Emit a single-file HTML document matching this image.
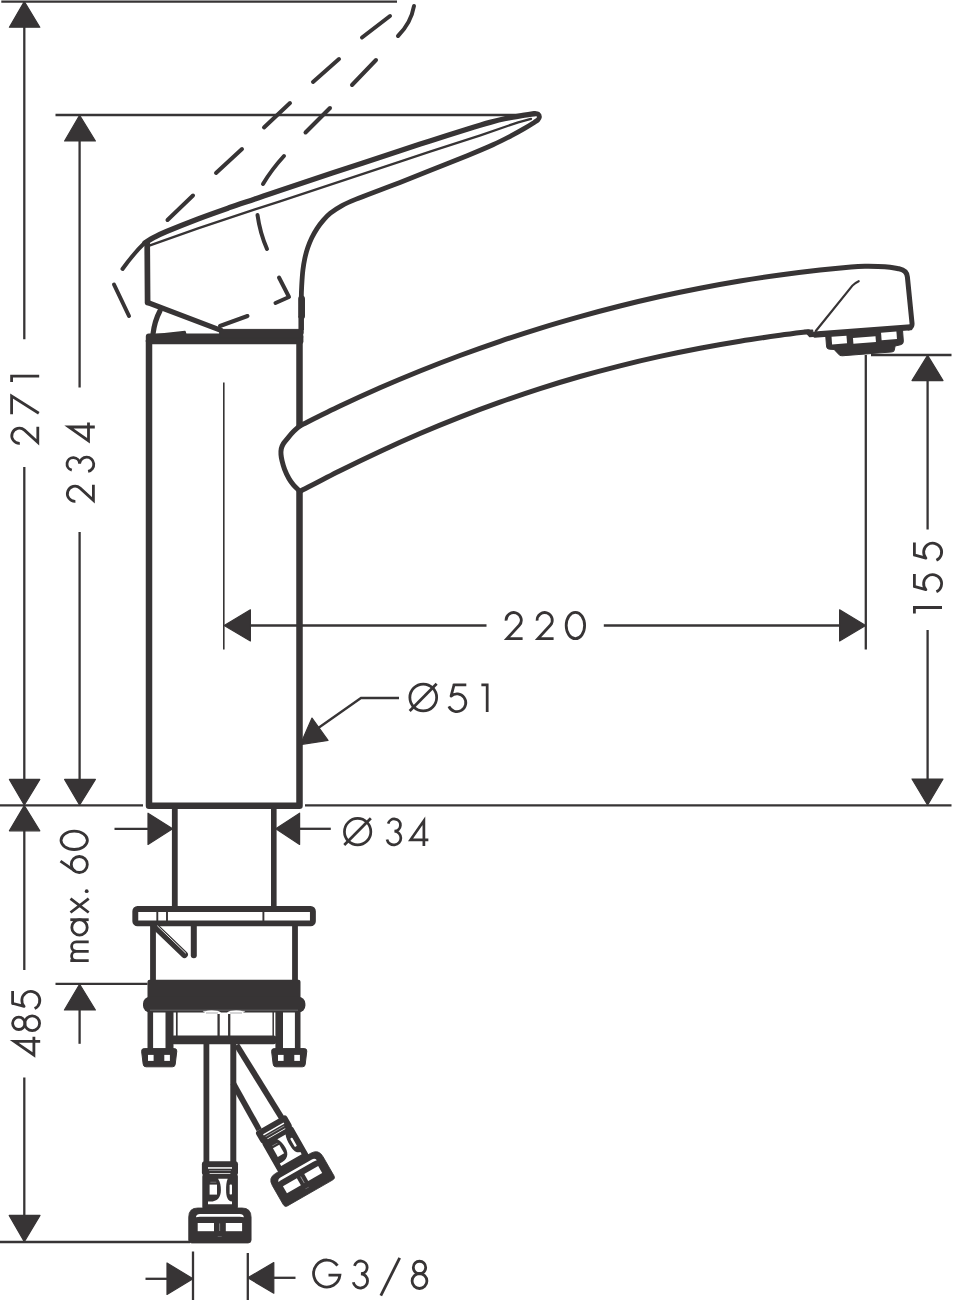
<!DOCTYPE html>
<html><head><meta charset="utf-8"><title>Dimension drawing</title>
<style>html,body{margin:0;padding:0;background:#fff;font-family:"Liberation Sans",sans-serif;}svg{display:block}</style>
</head><body>
<svg width="953" height="1300" viewBox="0 0 953 1300"><path d="M1.3,1.6 L397,1.6" stroke="#373435" stroke-width="2.3" fill="none" stroke-linecap="butt"/>
<polygon points="24.3,1.6 9.4,27.2 39.8,27.2" fill="#373435" stroke="#373435" stroke-width="1.2" stroke-linejoin="round"/>
<path d="M24.3,27 L24.3,339.3" stroke="#373435" stroke-width="2.3" fill="none" stroke-linecap="butt"/>
<path d="M24.3,467 L24.3,780" stroke="#373435" stroke-width="2.3" fill="none" stroke-linecap="butt"/>
<polygon points="24.3,805 9.4,779.4 39.8,779.4" fill="#373435" stroke="#373435" stroke-width="1.2" stroke-linejoin="round"/>
<polygon points="24.3,805.6 9.4,830.8 39.8,830.8" fill="#373435" stroke="#373435" stroke-width="1.2" stroke-linejoin="round"/>
<path d="M24.3,830 L24.3,970" stroke="#373435" stroke-width="2.3" fill="none" stroke-linecap="butt"/>
<path d="M24.3,1077.5 L24.3,1216" stroke="#373435" stroke-width="2.3" fill="none" stroke-linecap="butt"/>
<polygon points="24.3,1241.6 9.2,1215.4 40,1215.4" fill="#373435" stroke="#373435" stroke-width="1.2" stroke-linejoin="round"/>
<path d="M0,1242 L190,1242" stroke="#373435" stroke-width="2.3" fill="none" stroke-linecap="butt"/>
<path d="M55.5,115 L537,115" stroke="#373435" stroke-width="2.3" fill="none" stroke-linecap="butt"/>
<polygon points="79.6,115.4 64.6,141 95.4,141" fill="#373435" stroke="#373435" stroke-width="1.2" stroke-linejoin="round"/>
<path d="M79.6,140 L79.6,387.5" stroke="#373435" stroke-width="2.3" fill="none" stroke-linecap="butt"/>
<path d="M79.6,532 L79.6,780" stroke="#373435" stroke-width="2.3" fill="none" stroke-linecap="butt"/>
<polygon points="79.6,805 64.6,779.4 95.4,779.4" fill="#373435" stroke="#373435" stroke-width="1.2" stroke-linejoin="round"/>
<path d="M0,805.3 L143,805.3" stroke="#373435" stroke-width="2.3" fill="none" stroke-linecap="butt"/>
<path d="M305,805.3 L951.5,805.3" stroke="#373435" stroke-width="2.3" fill="none" stroke-linecap="butt"/>
<path d="M55.5,983.8 L147.5,983.8" stroke="#373435" stroke-width="2.3" fill="none" stroke-linecap="butt"/>
<polygon points="79.6,984.2 64.4,1010 95.4,1010" fill="#373435" stroke="#373435" stroke-width="1.2" stroke-linejoin="round"/>
<path d="M79.6,1009 L79.6,1043.8" stroke="#373435" stroke-width="2.3" fill="none" stroke-linecap="butt"/>
<polygon points="172.6,828.8 148,813.2 148,844.4" fill="#373435" stroke="#373435" stroke-width="1.2" stroke-linejoin="round"/>
<path d="M114.5,828.8 L149,828.8" stroke="#373435" stroke-width="2.3" fill="none" stroke-linecap="butt"/>
<polygon points="275.8,828.8 299.6,813.2 299.6,844.4" fill="#373435" stroke="#373435" stroke-width="1.2" stroke-linejoin="round"/>
<path d="M299,828.8 L330.8,828.8" stroke="#373435" stroke-width="2.3" fill="none" stroke-linecap="butt"/>
<path d="M223.8,382.5 L223.8,649.5" stroke="#373435" stroke-width="1.6" fill="none" stroke-linecap="butt"/>
<polygon points="224.2,625.5 250.4,609.8 250.4,641" fill="#373435" stroke="#373435" stroke-width="1.2" stroke-linejoin="round"/>
<path d="M250,625.5 L486.5,625.5" stroke="#373435" stroke-width="2.3" fill="none" stroke-linecap="butt"/>
<path d="M603.8,625.5 L840,625.5" stroke="#373435" stroke-width="2.3" fill="none" stroke-linecap="butt"/>
<polygon points="865.6,625.5 839.6,609.8 839.6,641" fill="#373435" stroke="#373435" stroke-width="1.2" stroke-linejoin="round"/>
<path d="M865.8,355 L865.8,649.5" stroke="#373435" stroke-width="2.3" fill="none" stroke-linecap="butt"/>
<path d="M871,355 L951.5,355" stroke="#373435" stroke-width="2.3" fill="none" stroke-linecap="butt"/>
<polygon points="927.6,355.4 912,380.6 943,380.6" fill="#373435" stroke="#373435" stroke-width="1.2" stroke-linejoin="round"/>
<path d="M927.6,380 L927.6,529.5" stroke="#373435" stroke-width="2.3" fill="none" stroke-linecap="butt"/>
<path d="M927.6,630 L927.6,780" stroke="#373435" stroke-width="2.3" fill="none" stroke-linecap="butt"/>
<polygon points="927.6,805 912,779 943,779" fill="#373435" stroke="#373435" stroke-width="1.2" stroke-linejoin="round"/>
<path d="M314,731 L361,698 H399" stroke="#373435" stroke-width="2.3" fill="none" stroke-linecap="butt" stroke-linejoin="miter"/>
<polygon points="300.4,744.6 312,718 328,740.4" fill="#373435" stroke="#373435" stroke-width="1.2" stroke-linejoin="round"/>
<path d="M193,1251.5 L193,1300" stroke="#373435" stroke-width="2.3" fill="none" stroke-linecap="butt"/>
<polygon points="193,1278.8 167,1263 167,1294.4" fill="#373435" stroke="#373435" stroke-width="1.2" stroke-linejoin="round"/>
<path d="M145.5,1278.8 L168,1278.8" stroke="#373435" stroke-width="2.3" fill="none" stroke-linecap="butt"/>
<path d="M247.8,1253 L247.8,1300" stroke="#373435" stroke-width="2.3" fill="none" stroke-linecap="butt"/>
<polygon points="247.8,1277.8 273.8,1262.6 273.8,1293.2" fill="#373435" stroke="#373435" stroke-width="1.2" stroke-linejoin="round"/>
<path d="M273,1277.8 L295.5,1277.8" stroke="#373435" stroke-width="2.3" fill="none" stroke-linecap="butt"/>
<g transform="translate(504.4,611)" fill="none" stroke="#373435" stroke-width="2.8" stroke-linecap="butt" stroke-linejoin="miter"><g transform="translate(0,0)"><path d="M1.7,9.6 A7.6,7.6 0 1 1 14.9,14.3 L2.6,27.6 H18.2"/></g><g transform="translate(31,0)"><path d="M1.7,9.6 A7.6,7.6 0 1 1 14.9,14.3 L2.6,27.6 H18.2"/></g><g transform="translate(60.6,0)"><ellipse cx="10.4" cy="14.5" rx="9.2" ry="13.2"/></g></g>
<g transform="translate(407.6,683.4) scale(0.985)" fill="none" stroke="#373435" stroke-width="2.8" stroke-linecap="butt" stroke-linejoin="miter"><g transform="translate(0.9,0)"><circle cx="15" cy="14.3" r="13.6"/><path d="M1.2,28 L28.6,0.4"/></g><g transform="translate(40.4,0)"><path stroke-linejoin="round" d="M19.2,1.4 H6.6 V2 L3.7,12.9 A9,9 0 1 1 1.5,23.4"/></g><g transform="translate(74.6,0)"><path d="M0.3,1.4 H6.2 V29"/></g></g>
<g transform="translate(342.6,817.8) scale(0.97)" fill="none" stroke="#373435" stroke-width="2.8" stroke-linecap="butt" stroke-linejoin="miter"><g transform="translate(0.5,0)"><circle cx="15" cy="14.3" r="13.6"/><path d="M1.2,28 L28.6,0.4"/></g><g transform="translate(44.8,0)"><path d="M2.2,6 A6.4,6.3 0 1 1 8.7,13.8 A7.2,7.1 0 1 1 1,22.3"/></g><g transform="translate(68.2,0)"><path d="M15.6,29 V3 L1.9,22.7 H20.2"/></g></g>
<g transform="translate(312.3,1259.8) scale(1,1.01)" fill="none" stroke="#373435" stroke-width="2.8" stroke-linecap="butt" stroke-linejoin="miter"><g transform="translate(0,0)"><path d="M25.2,5.8 A13.2,13.4 0 1 0 27.6,15.2 H16.2"/></g><g transform="translate(40,0)"><path d="M2.2,6 A6.4,6.3 0 1 1 8.7,13.8 A7.2,7.1 0 1 1 1,22.3"/></g><g transform="translate(68.2,0)"><path d="M0.3,35.4 L19.2,-1.8"/></g><g transform="translate(98.2,0)"><circle cx="9" cy="7.6" r="6.2"/><circle cx="9" cy="21" r="7.4"/></g></g>
<g transform="translate(10.2,445) rotate(-90)" fill="none" stroke="#373435" stroke-width="2.8" stroke-linecap="butt" stroke-linejoin="miter"><g transform="translate(0,0)"><path d="M1.7,9.6 A7.6,7.6 0 1 1 14.9,14.3 L2.6,27.6 H18.2"/></g><g transform="translate(30.6,0)"><path d="M0.1,1.4 H18.4 L1.2,28.6"/></g><g transform="translate(62.6,0)"><path d="M0.3,1.4 H6.2 V29"/></g></g>
<g transform="translate(65.8,503) rotate(-90)" fill="none" stroke="#373435" stroke-width="2.8" stroke-linecap="butt" stroke-linejoin="miter"><g transform="translate(0,0)"><path d="M1.7,9.6 A7.6,7.6 0 1 1 14.9,14.3 L2.6,27.6 H18.2"/></g><g transform="translate(30.6,0)"><path d="M2.2,6 A6.4,6.3 0 1 1 8.7,13.8 A7.2,7.1 0 1 1 1,22.3"/></g><g transform="translate(60.4,0)"><path d="M15.6,29 V3 L1.9,22.7 H20.2"/></g></g>
<g transform="translate(913,614.6) rotate(-90)" fill="none" stroke="#373435" stroke-width="2.8" stroke-linecap="butt" stroke-linejoin="miter"><g transform="translate(0.9,0)"><path d="M0.3,1.4 H6.2 V29"/></g><g transform="translate(21.3,0)"><path stroke-linejoin="round" d="M19.2,1.4 H6.6 V2 L3.7,12.9 A9,9 0 1 1 1.5,23.4"/></g><g transform="translate(52.8,0)"><path stroke-linejoin="round" d="M19.2,1.4 H6.6 V2 L3.7,12.9 A9,9 0 1 1 1.5,23.4"/></g></g>
<g transform="translate(11.2,1056.4) rotate(-90)" fill="none" stroke="#373435" stroke-width="2.8" stroke-linecap="butt" stroke-linejoin="miter"><g transform="translate(-0.5,0)"><path d="M15.6,29 V3 L1.9,22.7 H20.2"/></g><g transform="translate(24.1,0)"><circle cx="9" cy="7.6" r="6.2"/><circle cx="9" cy="21" r="7.4"/></g><g transform="translate(46.3,0)"><path stroke-linejoin="round" d="M19.2,1.4 H6.6 V2 L3.7,12.9 A9,9 0 1 1 1.5,23.4"/></g></g>
<g transform="translate(59.7,962) rotate(-90)" fill="none" stroke="#373435" stroke-width="2.8" stroke-linecap="butt" stroke-linejoin="miter"><g transform="translate(0,0)"><path d="M1.3,29 V10.6 M1.3,16.6 A4.7,4.7 0 0 1 10.7,16.6 V29 M10.7,16.6 A4.7,4.7 0 0 1 20.1,16.6 V29"/></g><g transform="translate(25.8,0)"><circle cx="8.8" cy="19.8" r="7.7"/><path d="M16.5,10.6 V29"/></g><g transform="translate(48.5,0)"><path d="M1,10.8 L14.8,29 M14.8,10.8 L1,29"/></g><g transform="translate(68.8,0)"><circle cx="2" cy="27" r="1.9" fill="#373435" stroke="none"/></g><g transform="translate(88.2,0)"><circle cx="9.3" cy="19.6" r="8"/><path d="M12.6,0.8 L2.9,15"/></g><g transform="translate(111.3,0)"><ellipse cx="10.4" cy="14.5" rx="9.2" ry="13.2"/></g></g>
<path d="M122.5,269 Q134,253 145,242.5" stroke="#373435" stroke-width="4.0" fill="none" stroke-linecap="round" stroke-linejoin="round"/>
<path d="M167.5,220 L193,195.5" stroke="#373435" stroke-width="4.0" fill="none" stroke-linecap="round" stroke-linejoin="round"/>
<path d="M216,173 L242,149" stroke="#373435" stroke-width="4.0" fill="none" stroke-linecap="round" stroke-linejoin="round"/>
<path d="M264,127.5 L290,103" stroke="#373435" stroke-width="4.0" fill="none" stroke-linecap="round" stroke-linejoin="round"/>
<path d="M313,82 L339,59" stroke="#373435" stroke-width="4.0" fill="none" stroke-linecap="round" stroke-linejoin="round"/>
<path d="M362,37.5 L390,16" stroke="#373435" stroke-width="4.0" fill="none" stroke-linecap="round" stroke-linejoin="round"/>
<path d="M414,6 Q411,23 398,36" stroke="#373435" stroke-width="4.0" fill="none" stroke-linecap="round" stroke-linejoin="round"/>
<path d="M305.5,132.5 L330,108" stroke="#373435" stroke-width="4.0" fill="none" stroke-linecap="round" stroke-linejoin="round"/>
<path d="M352,85 L376,60" stroke="#373435" stroke-width="4.0" fill="none" stroke-linecap="round" stroke-linejoin="round"/>
<path d="M263,184 Q272,169 284,156" stroke="#373435" stroke-width="4.0" fill="none" stroke-linecap="round" stroke-linejoin="round"/>
<path d="M257.5,215 Q260,233 267,249" stroke="#373435" stroke-width="4.0" fill="none" stroke-linecap="round" stroke-linejoin="round"/>
<path d="M279,277.5 L289,297 L275.5,303" stroke="#373435" stroke-width="4.0" fill="none" stroke-linecap="round" stroke-linejoin="round"/>
<path d="M220,326 L247.5,316" stroke="#373435" stroke-width="4.0" fill="none" stroke-linecap="round" stroke-linejoin="round"/>
<path d="M114,284.5 L129,316" stroke="#373435" stroke-width="4.0" fill="none" stroke-linecap="round" stroke-linejoin="round"/>
<path d="M145.00,242.80 C146.50,241.90 150.42,239.28 154.00,237.40 C157.58,235.52 159.17,234.58 166.50,231.50 C173.83,228.42 187.50,222.88 198.00,218.90 C208.50,214.92 220.00,210.92 229.50,207.60 C239.00,204.28 246.58,201.87 255.00,199.00 C263.42,196.13 267.25,194.68 280.00,190.40 C292.75,186.12 311.50,179.92 331.50,173.30 C351.50,166.68 383.58,156.08 400.00,150.70 C416.42,145.32 418.70,144.62 430.00,141.00 C441.30,137.38 457.80,132.10 467.80,129.00 C477.80,125.90 483.70,124.15 490.00,122.40 C496.30,120.65 499.85,119.70 505.60,118.50 C511.35,117.30 519.68,116.02 524.50,115.20 C529.32,114.38 532.83,113.87 534.50,113.60" stroke="#373435" stroke-width="5.3" fill="none" stroke-linecap="round" stroke-linejoin="round"/>
<path d="M150,245.3 L198,228.3 L255,209.4 L280,201.4 L400,161.7 L430,151.7 L480.4,135.3 L518.2,122.3 L531,118.8" stroke="#373435" stroke-width="2.3" fill="none" stroke-linecap="round" stroke-linejoin="round"/>
<path d="M534.50,113.60 C535.12,113.70 537.38,113.60 538.20,114.20 C539.02,114.80 539.47,116.23 539.40,117.20 C539.33,118.17 538.62,119.17 537.80,120.00 C536.98,120.83 536.72,120.80 534.50,122.20 C532.28,123.60 528.27,126.20 524.50,128.40 C520.73,130.60 517.15,132.67 511.90,135.40 C506.65,138.13 500.35,141.45 493.00,144.80 C485.65,148.15 478.30,151.20 467.80,155.50 C457.30,159.80 441.30,166.12 430.00,170.60 C418.70,175.08 408.20,179.22 400.00,182.40 C391.80,185.58 388.20,186.87 380.80,189.70 C373.40,192.53 362.07,196.75 355.60,199.40 C349.13,202.05 346.20,203.30 342.00,205.60 C337.80,207.90 333.53,210.73 330.40,213.20 C327.27,215.67 325.43,217.83 323.20,220.40 C320.97,222.97 318.90,225.70 317.00,228.60 C315.10,231.50 313.33,234.63 311.80,237.80 C310.27,240.97 308.97,244.17 307.80,247.60 C306.63,251.03 305.62,254.67 304.80,258.40 C303.98,262.13 303.40,265.73 302.90,270.00 C302.40,274.27 302.07,279.25 301.80,284.00 C301.53,288.75 301.38,290.33 301.30,298.50 C301.22,306.67 301.30,327.25 301.30,333.00" stroke="#373435" stroke-width="4.8" fill="none" stroke-linecap="round" stroke-linejoin="round"/>
<path d="M301.6,299 V316" stroke="#373435" stroke-width="6.8" fill="none" stroke-linecap="round" stroke-linejoin="round"/>
<path d="M301.2,316 V330" stroke="#373435" stroke-width="5.4" fill="none" stroke-linecap="butt" stroke-linejoin="round"/>
<path d="M147.2,242.6 L147.6,302.5" stroke="#373435" stroke-width="5.7" fill="none" stroke-linecap="round" stroke-linejoin="round"/>
<path d="M147.6,302.5 L221,330.4" stroke="#373435" stroke-width="5.2" fill="none" stroke-linecap="round" stroke-linejoin="round"/>
<path d="M159.9,311 Q154.6,321 153,334" stroke="#373435" stroke-width="5.2" fill="none" stroke-linecap="round" stroke-linejoin="round"/>
<path d="M153,335 L185,331.6 L186,335 Z" stroke="#373435" stroke-width="1.5" fill="#373435" stroke-linecap="round" stroke-linejoin="round"/>
<rect x="145.8" y="333.4" width="157.6" height="10.8" fill="#373435" rx="3"/>
<path d="M220,329.4 L302.6,329.4 V338 H220 Z" stroke="#373435" stroke-width="1" fill="#373435" stroke-linecap="round" stroke-linejoin="round"/>
<path d="M299.5,427 V340" stroke="#373435" stroke-width="6.5" fill="none" stroke-linecap="butt" stroke-linejoin="round"/>
<path d="M149,340 V805.8 H299.5 V490" stroke="#373435" stroke-width="6.5" fill="none" stroke-linecap="butt" stroke-linejoin="round"/>
<path d="M300.00,425.80 C306.67,422.52 326.67,412.43 340.00,406.10 C353.33,399.77 366.67,393.65 380.00,387.80 C393.33,381.95 406.67,376.38 420.00,371.00 C433.33,365.62 446.67,360.45 460.00,355.50 C473.33,350.55 486.67,345.83 500.00,341.30 C513.33,336.77 526.67,332.42 540.00,328.30 C553.33,324.18 566.67,320.32 580.00,316.60 C593.33,312.88 606.67,309.35 620.00,306.00 C633.33,302.65 646.67,299.47 660.00,296.50 C673.33,293.53 686.67,290.78 700.00,288.20 C713.33,285.62 726.67,283.20 740.00,281.00 C753.33,278.80 766.67,276.83 780.00,275.00 C793.33,273.17 808.15,271.33 820.00,270.00 C831.85,268.67 843.43,267.62 851.10,267.00 C858.77,266.38 861.52,266.38 866.00,266.30 C870.48,266.22 874.00,266.33 878.00,266.50 C882.00,266.67 886.50,266.92 890.00,267.30 C893.50,267.68 897.50,268.55 899.00,268.80 Q906.8,270.4 907.4,277 L912,323 Q912.5,327.8 908.4,328" stroke="#373435" stroke-width="5.0" fill="none" stroke-linecap="round" stroke-linejoin="round"/>
<path d="M300.00,491.40 C306.67,487.95 326.67,477.37 340.00,470.70 C353.33,464.03 366.67,457.60 380.00,451.40 C393.33,445.20 406.67,439.22 420.00,433.50 C433.33,427.78 446.67,422.32 460.00,417.10 C473.33,411.88 486.67,406.95 500.00,402.20 C513.33,397.45 526.67,392.88 540.00,388.60 C553.33,384.32 566.67,380.30 580.00,376.50 C593.33,372.70 606.67,369.15 620.00,365.80 C633.33,362.45 646.67,359.33 660.00,356.40 C673.33,353.47 686.67,350.73 700.00,348.20 C713.33,345.67 726.67,343.35 740.00,341.20 C753.33,339.05 768.62,336.88 780.00,335.30 C791.38,333.72 803.58,332.30 808.30,331.70" stroke="#373435" stroke-width="5.0" fill="none" stroke-linecap="round" stroke-linejoin="round"/>
<path d="M804,330.4 L812.6,330 L813.4,336.4 L809.6,336.6 Z" stroke="#373435" stroke-width="1.2" fill="#373435" stroke-linecap="round" stroke-linejoin="round"/>
<path d="M300.00,425.80 C298.92,426.77 295.57,429.52 293.50,431.60 C291.43,433.68 289.28,436.30 287.60,438.30 C285.92,440.30 284.45,441.88 283.40,443.60 C282.35,445.32 281.70,446.78 281.30,448.60 C280.90,450.42 280.87,452.43 281.00,454.50 C281.13,456.57 281.50,458.52 282.10,461.00 C282.70,463.48 283.47,466.47 284.60,469.40 C285.73,472.33 287.40,475.97 288.90,478.60 C290.40,481.23 291.75,483.07 293.60,485.20 C295.45,487.33 298.93,490.37 300.00,491.40" stroke="#373435" stroke-width="5.0" fill="none" stroke-linecap="round" stroke-linejoin="round"/>
<path d="M858.7,281.2 Q854.5,283.2 852.4,285.6 L815.8,331" stroke="#373435" stroke-width="2.2" fill="none" stroke-linecap="round" stroke-linejoin="round"/>
<g transform="translate(814,334.6) rotate(-4.36)"><rect x="-1" y="-3.1" width="99.6" height="6.2" fill="#373435" rx="1.5"/><path d="M11.6,0 V12.4 Q11.6,15.6 15.2,15.9 L19,16.3 L23.4,21.6 Q24.6,23.2 27,23.2 H75.6 Q78.4,23.2 79,21 L80,17.6 L85.4,16.6 Q88.6,15.8 88.6,12.6 V0 Z" fill="#373435" stroke="#373435" stroke-width="1" stroke-linejoin="round"/><rect x="17.3" y="3.6" width="15" height="7.6" fill="#fff"/><rect x="38.6" y="6.3" width="22.6" height="5.9" fill="#fff"/><rect x="67" y="3.2" width="15.4" height="7.6" fill="#fff"/></g>
<path d="M174.8,809 V907" stroke="#373435" stroke-width="5.8" fill="none" stroke-linecap="butt" stroke-linejoin="round"/>
<path d="M273.8,809 V907" stroke="#373435" stroke-width="5.6" fill="none" stroke-linecap="butt" stroke-linejoin="round"/>
<rect x="135.3" y="909" width="177.6" height="14.4" fill="#fff" stroke="#373435" stroke-width="5.9" rx="2.2"/>
<path d="M157.3,911 L157.3,922" stroke="#373435" stroke-width="1.9" fill="none" stroke-linecap="butt"/>
<path d="M167,911 L167,922" stroke="#373435" stroke-width="1.9" fill="none" stroke-linecap="butt"/>
<path d="M263.4,911 L263.4,922" stroke="#373435" stroke-width="1.9" fill="none" stroke-linecap="butt"/>
<path d="M153,925 V982" stroke="#373435" stroke-width="5.8" fill="none" stroke-linecap="butt" stroke-linejoin="round"/>
<path d="M295,925 V982" stroke="#373435" stroke-width="5.8" fill="none" stroke-linecap="butt" stroke-linejoin="round"/>
<path d="M154.2,925.6 L184.4,954.6" stroke="#373435" stroke-width="7" fill="none" stroke-linecap="round" stroke-linejoin="round"/>
<path d="M157.6,926 L185.6,953" stroke="#fff" stroke-width="0.9" fill="none" stroke-linecap="round" stroke-linejoin="round"/>
<path d="M193.8,925 V955.2" stroke="#373435" stroke-width="6" fill="none" stroke-linecap="round" stroke-linejoin="round"/>
<rect x="147.5" y="979.8" width="153" height="31" fill="#373435" rx="2"/>
<rect x="143" y="996.8" width="162.4" height="15.8" fill="#373435" rx="7"/>
<path d="M150,1010.2 H298" stroke="#8a8a8c" stroke-width="0.6" fill="none" stroke-linecap="butt" stroke-linejoin="round"/>
<path d="M203.6,1011.4 Q211,1010 217.4,1011 Q221.4,1011.8 221.8,1015.6 L204,1015.6 Q207,1013.6 203.6,1011.4 Z" stroke="#fff" stroke-width="0.4" fill="#fff" stroke-linecap="round" stroke-linejoin="round"/>
<path d="M244.4,1011.4 Q237,1010 230.6,1011 Q226.6,1011.8 226.2,1015.6 L244,1015.6 Q241,1013.6 244.4,1011.4 Z" stroke="#fff" stroke-width="0.4" fill="#fff" stroke-linecap="round" stroke-linejoin="round"/>
<path d="M206,1013 H218" stroke="#8a8a8c" stroke-width="0.7" fill="none" stroke-linecap="butt" stroke-linejoin="round"/>
<path d="M230,1013 H242" stroke="#8a8a8c" stroke-width="0.7" fill="none" stroke-linecap="butt" stroke-linejoin="round"/>
<path d="M150.3,1011 V1050" stroke="#373435" stroke-width="5.6" fill="none" stroke-linecap="butt" stroke-linejoin="round"/>
<path d="M169.5,1011 V1050" stroke="#373435" stroke-width="8" fill="none" stroke-linecap="butt" stroke-linejoin="round"/>
<path d="M279.2,1011 V1050" stroke="#373435" stroke-width="7.6" fill="none" stroke-linecap="butt" stroke-linejoin="round"/>
<path d="M297.7,1011 V1050" stroke="#373435" stroke-width="5.6" fill="none" stroke-linecap="butt" stroke-linejoin="round"/>
<path d="M176.8,1012 L176.8,1036" stroke="#373435" stroke-width="1.7" fill="none" stroke-linecap="butt"/>
<path d="M273.2,1012 L273.2,1036" stroke="#373435" stroke-width="1.5" fill="none" stroke-linecap="butt"/>
<path d="M218.6,1014 L218.6,1036" stroke="#373435" stroke-width="2.3" fill="none" stroke-linecap="butt"/>
<path d="M229.2,1014 L229.2,1036" stroke="#373435" stroke-width="2.3" fill="none" stroke-linecap="butt"/>
<rect x="170.9" y="1035.4" width="105.6" height="8.8" fill="#373435" rx="3"/>
<path d="M141.6,1051 Q141.6,1048.6 144.2,1048.6 H174.2 Q176.8,1048.6 176.8,1051 L175.2,1064.4 Q175.0,1066.8 172.4,1066.8 H146.0 Q143.4,1066.8 143.2,1064.4 Z" stroke="#373435" stroke-width="1.0" fill="#373435" stroke-linecap="round" stroke-linejoin="round"/>
<rect x="148.0" y="1054.9" width="5.6" height="6" fill="#fff" rx="0"/>
<rect x="164.29999999999998" y="1054.9" width="5.6" height="6" fill="#fff" rx="0"/>
<path d="M271.6,1051 Q271.6,1048.6 274.20000000000005,1048.6 H304.20000000000005 Q306.8,1048.6 306.8,1051 L305.20000000000005,1064.4 Q305.0,1066.8 302.40000000000003,1066.8 H276.0 Q273.40000000000003,1066.8 273.20000000000005,1064.4 Z" stroke="#373435" stroke-width="1.0" fill="#373435" stroke-linecap="round" stroke-linejoin="round"/>
<rect x="278.0" y="1054.9" width="5.6" height="6" fill="#fff" rx="0"/>
<rect x="294.3" y="1054.9" width="5.6" height="6" fill="#fff" rx="0"/>
<path d="M236.6,1045 L282,1118.4" stroke="#373435" stroke-width="5.8" fill="none" stroke-linecap="butt" stroke-linejoin="round"/>
<path d="M233,1083 L259.2,1129.8" stroke="#373435" stroke-width="5.8" fill="none" stroke-linecap="butt" stroke-linejoin="round"/>
<g transform="translate(270.3,1123.3) rotate(-29.8) scale(0.985)"><rect x="-18" y="0" width="36.1" height="14.4" fill="#373435" rx="3"/><rect x="-11.9" y="6" width="24" height="1.5" fill="#fff"/><rect x="-10.8" y="9" width="21.8" height="0.7" fill="#9a9a9c"/><rect x="-10.3" y="11.8" width="20.8" height="1.9" fill="#fff"/><rect x="-17.6" y="12.6" width="35.6" height="36" fill="#373435" rx="3"/><rect x="-10.3" y="23.4" width="7.4" height="10" fill="#fff"/><rect x="-9.6" y="20.6" width="6" height="0.7" fill="#8a8a8c"/><path d="M-1.9,17.6 H7.8 C6.4,20.6 6.2,25 6.2,29 C6.2,35.4 7.6,39.6 12.1,40.4 V43 H-11.9 V40.2 C-3.6,41.2 1,37 1,29 C1,25 0.4,20.6 -1.9,17.6 Z" fill="#fff"/><rect x="9.7" y="23.4" width="2.4" height="10" fill="#fff" rx="0.8"/><path d="M-29.6,78.4 V56 Q-29.6,46.8 -20.6,46.8 H20.6 Q29.6,46.8 29.6,56 V78.4 Q29.6,81.4 26.6,81.4 H-26.6 Q-29.6,81.4 -29.6,78.4 Z" fill="#373435" stroke="#373435" stroke-width="0.8" stroke-linejoin="round"/><path d="M-22.400000000000002,56 Q-21.8,52.8 -18.400000000000002,52.8 H18.400000000000002 Q21.8,52.8 22.400000000000002,56 Q21.400000000000002,55.6 18.400000000000002,55.6 H-18.400000000000002 Q-21.400000000000002,55.6 -22.400000000000002,56 Z" fill="#fff"/><rect x="-20.6" y="61.8" width="16.3" height="8.2" fill="#fff"/><rect x="4.300000000000001" y="61.8" width="16.3" height="8.2" fill="#fff"/><rect x="-0.6" y="62.2" width="0.8" height="7.6" fill="#9a9a9c"/><rect x="-2.2" y="75.2" width="4" height="0.6" fill="#77777a"/></g>
<path d="M206.4,1043 V1163" stroke="#373435" stroke-width="5.8" fill="none" stroke-linecap="butt" stroke-linejoin="round"/>
<path d="M233.3,1043 V1163" stroke="#373435" stroke-width="6.0" fill="none" stroke-linecap="butt" stroke-linejoin="round"/>
<g transform="translate(219.9,1161.2)"><rect x="-18" y="0" width="36.1" height="14.4" fill="#373435" rx="3"/><rect x="-11.9" y="6" width="24" height="1.5" fill="#fff"/><rect x="-10.8" y="9" width="21.8" height="0.7" fill="#9a9a9c"/><rect x="-10.3" y="11.8" width="20.8" height="1.9" fill="#fff"/><rect x="-17.6" y="12.6" width="35.6" height="36" fill="#373435" rx="3"/><rect x="-10.3" y="23.4" width="7.4" height="10" fill="#fff"/><rect x="-9.6" y="20.6" width="6" height="0.7" fill="#8a8a8c"/><path d="M-1.9,17.6 H7.8 C6.4,20.6 6.2,25 6.2,29 C6.2,35.4 7.6,39.6 12.1,40.4 V43 H-11.9 V40.2 C-3.6,41.2 1,37 1,29 C1,25 0.4,20.6 -1.9,17.6 Z" fill="#fff"/><rect x="9.7" y="23.4" width="2.4" height="10" fill="#fff" rx="0.8"/><path d="M-31.2,78.8 V56 Q-31.2,46.8 -22.2,46.8 H22.2 Q31.2,46.8 31.2,56 V78.8 Q31.2,81.8 28.2,81.8 H-28.2 Q-31.2,81.8 -31.2,78.8 Z" fill="#373435" stroke="#373435" stroke-width="0.8" stroke-linejoin="round"/><path d="M-24.0,56 Q-23.4,52.8 -20.0,52.8 H20.0 Q23.4,52.8 24.0,56 Q23.0,55.6 20.0,55.6 H-20.0 Q-23.0,55.6 -24.0,56 Z" fill="#fff"/><rect x="-22.2" y="61.8" width="16.3" height="8.2" fill="#fff"/><rect x="5.899999999999999" y="61.8" width="16.3" height="8.2" fill="#fff"/><rect x="-0.6" y="62.2" width="0.8" height="7.6" fill="#9a9a9c"/><rect x="-2.2" y="75.2" width="4" height="0.6" fill="#77777a"/></g></svg>
</body></html>
